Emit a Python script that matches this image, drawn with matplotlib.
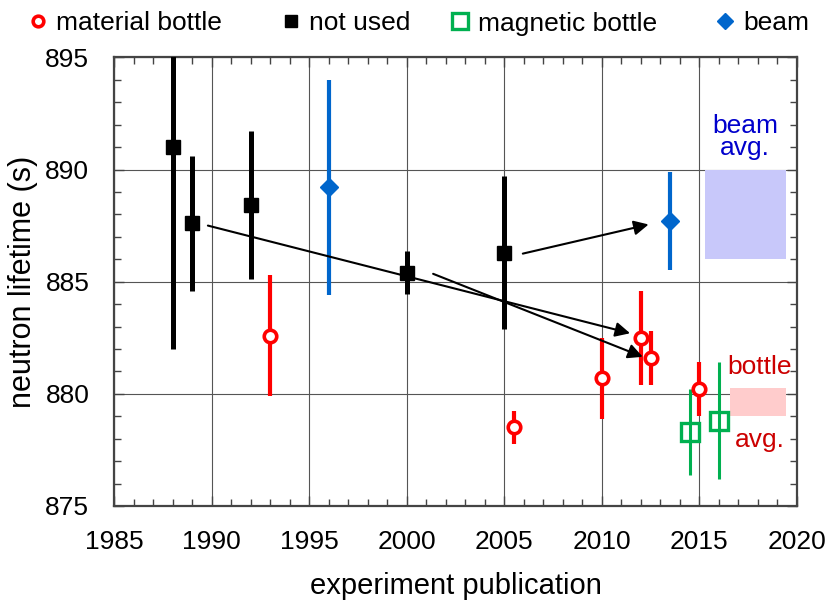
import matplotlib
matplotlib.use('Agg')
import matplotlib.pyplot as plt
from matplotlib.ticker import MultipleLocator
from matplotlib.patches import Rectangle

plt.rcParams['font.family'] = ['Liberation Sans', 'DejaVu Sans']
plt.rcParams['font.size'] = 19

# material bottle experiments
mat_year = [1993.0, 2005.5, 2010.0, 2012.0, 2012.5, 2015.0]
mat_tau = [882.6, 878.5, 880.7, 882.5, 881.6, 880.2]
mat_err = [2.7, 0.75, 1.8, 2.1, 1.2, 1.2]

# results no longer used
old_year = [1988.0, 1989.0, 1992.0, 2000.0, 2005.0]
old_tau = [891.0, 887.6, 888.4, 885.4, 886.3]
old_err = [9.0, 3.0, 3.3, 0.95, 3.4]

# magnetic bottle experiments
mag_year = [2014.5, 2016.0]
mag_tau = [878.3, 878.8]
mag_err = [1.9, 2.6]

# beam experiments
beam_year = [1996.0, 2013.5]
beam_tau = [889.2, 887.7]
beam_err = [4.8, 2.2]

# averages (x range, centre, half width)
beam_avg_x = [2015.3, 2019.45]
beam_avg = [888.0, 2.0]
bottle_avg_x = [2016.6, 2019.45]
bottle_avg = [879.65, 0.62]

# arrows: (start year, start tau, end year, end tau)
arrows = [
    (1989.8, 887.5, 2011.45, 882.7),
    (2001.35, 885.35, 2012.1, 881.65),
    (2005.95, 886.25, 2012.4, 887.55),
]

red = '#ff0000'
green = '#00b050'
blue = '#0066cc'

fig = plt.figure(figsize=(8.3, 6.1), dpi=100)
ax = fig.add_axes([0.1377, 0.1705, 0.8223, 0.7355])

# average bands
ax.add_patch(Rectangle((beam_avg_x[0], beam_avg[0] - beam_avg[1]),
                       beam_avg_x[1] - beam_avg_x[0], 2 * beam_avg[1],
                       facecolor='#c8c8fa', edgecolor='none', zorder=1))
ax.add_patch(Rectangle((bottle_avg_x[0], bottle_avg[0] - bottle_avg[1]),
                       bottle_avg_x[1] - bottle_avg_x[0], 2 * bottle_avg[1],
                       facecolor='#ffcccc', edgecolor='none', zorder=1))

# error bars
ax.errorbar(old_year, old_tau, yerr=old_err, fmt='none', ecolor='black', elinewidth=3.6, zorder=3)
ax.errorbar(mat_year, mat_tau, yerr=mat_err, fmt='none', ecolor=red, elinewidth=3.0, zorder=3)
ax.errorbar(mag_year, mag_tau, yerr=mag_err, fmt='none', ecolor=green, elinewidth=2.2, zorder=3)
ax.errorbar(beam_year, beam_tau, yerr=beam_err, fmt='none', ecolor=blue, elinewidth=3.0, zorder=3)

# markers
h_mat, = ax.plot(mat_year, mat_tau, 'o', ms=9, mfc='white', mec=red, mew=2.6,
                 label='material bottle', zorder=4)
h_old, = ax.plot(old_year, old_tau, 's', ms=10, color='black', label='not used', zorder=4)
h_mag, = ax.plot(mag_year, mag_tau, 's', ms=13, mfc='none', mec=green, mew=2.4,
                 label='magnetic bottle', zorder=4)
h_beam, = ax.plot(beam_year, beam_tau, 'D', ms=9, color=blue, label='beam', zorder=4)

# arrows
for x0, y0, x1, y1 in arrows:
    ax.annotate('', xy=(x1, y1), xytext=(x0, y0),
                arrowprops=dict(arrowstyle='-|>', color='black', lw=1.5,
                                mutation_scale=22, shrinkA=0, shrinkB=0),
                zorder=5)

# labels for averages
ax.text(2017.35, 891.45, 'beam\navg.', color='#0000cc', ha='center', va='center',
        linespacing=0.85, fontsize=19)
ax.text(2018.1, 881.2, 'bottle', color='#cc0000', ha='center', va='center', fontsize=19)
ax.text(2018.1, 877.95, 'avg.', color='#cc0000', ha='center', va='center', fontsize=19)

ax.set_xlim(1985, 2020)
ax.set_ylim(875, 895)
ax.xaxis.set_major_locator(MultipleLocator(5))
ax.xaxis.set_minor_locator(MultipleLocator(1))
ax.yaxis.set_major_locator(MultipleLocator(5))
ax.yaxis.set_minor_locator(MultipleLocator(1))
ax.tick_params(which='both', direction='in', top=True, right=True, colors='#444444',
               labelcolor='black', labelsize=19)
ax.tick_params(which='major', length=7, width=1)
ax.tick_params(which='minor', length=5, width=1)
ax.tick_params(axis='x', which='major', pad=17)
ax.tick_params(axis='y', which='major', pad=18)
ax.grid(True, which='major', color='#555555', linewidth=0.8, zorder=0)
ax.set_axisbelow(True)
for s in ax.spines.values():
    s.set_color('#444444')
    s.set_linewidth(1.6)

ax.set_xlabel('experiment publication', fontsize=21, labelpad=13)
ax.set_ylabel('neutron lifetime (s)', fontsize=22, labelpad=5)

# legend row above the plot, one entry per marker position
legend_pos = [38, 290.7, 460, 725]
for h, xm in zip([h_mat, h_old, h_mag, h_beam], legend_pos):
    fs_px = 19 * 100 / 72
    x0 = (xm - 0.35 * fs_px) / 830
    fig.legend(handles=[h], loc='center left', bbox_to_anchor=(x0, 1 - 23.5 / 610),
               frameon=False, borderpad=0, borderaxespad=0, handlelength=0.7,
               handletextpad=0.33, fontsize=19, markerscale=0.85)

fig.savefig('out.png', dpi=100)
